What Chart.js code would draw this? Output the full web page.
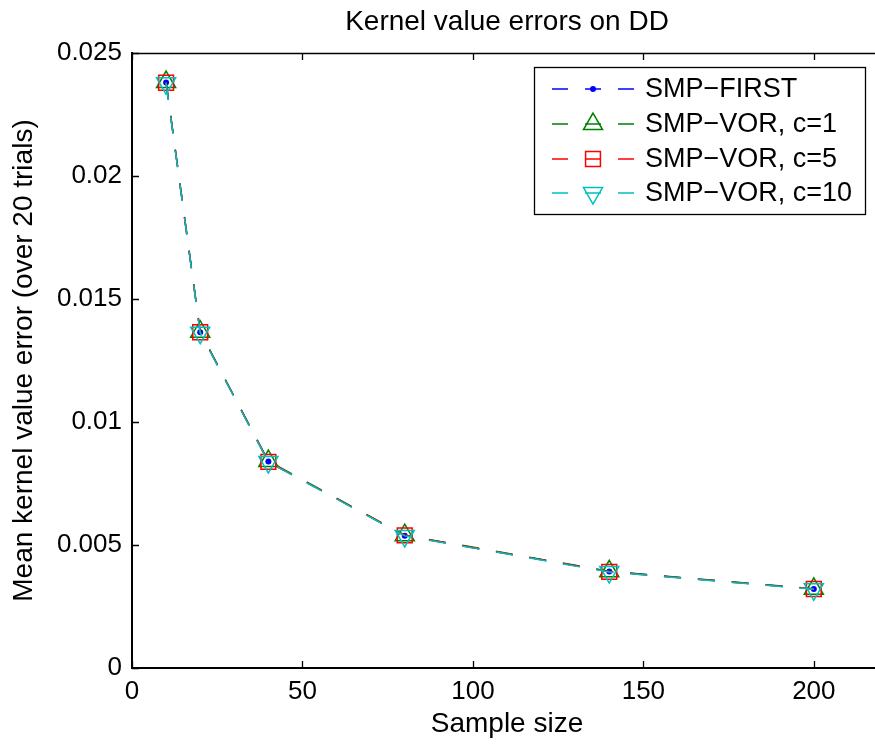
<!DOCTYPE html>
<html>
<head>
<meta charset="utf-8">
<title>Kernel value errors on DD</title>
<script src="https://cdn.jsdelivr.net/npm/chart.js@4.4.1/dist/chart.umd.min.js"></script>
<style>
  html, body { margin: 0; padding: 0; background: #fff; overflow: hidden; }
  #wrap { width: 875px; height: 744px; overflow: hidden; }
  #chart { display: block; }
</style>
</head>
<body>
<div id="wrap"><canvas id="chart" width="884" height="744"></canvas></div>
<script>
// Sample sizes (x axis)
const sampleSizes = [10, 20, 40, 80, 140, 200];

// Mean kernel value error over 20 trials
const smpFirst = [0.02380, 0.01365, 0.00839, 0.00538, 0.00392, 0.00321];
const smpVor1  = [0.02382, 0.01367, 0.00841, 0.00540, 0.00393, 0.00322];
const smpVor5  = [0.02379, 0.01365, 0.00838, 0.00539, 0.00391, 0.00321];
const smpVor10 = [0.02377, 0.01363, 0.00837, 0.00537, 0.00390, 0.00320];

const seriesNames = ['SMP\u2212FIRST', 'SMP\u2212VOR, c=1', 'SMP\u2212VOR, c=5', 'SMP\u2212VOR, c=10'];

// Tick labels
const xTickValues = [0, 50, 100, 150, 200];
const xTickLabels = ['0', '50', '100', '150', '200'];
const yTickValues = [0, 0.005, 0.01, 0.015, 0.02, 0.025];
const yTickLabels = ['0', '0.005', '0.01', '0.015', '0.02', '0.025'];

const FONT = '"Liberation Sans", Arial, Helvetica, sans-serif';
const DASH = [17, 17];

function toPoints(values) {
  return sampleSizes.map((x, i) => ({ x: x, y: values[i] }));
}

function series(label, values, color, style, radius, rotation, order) {
  const filled = style === 'circle';
  return {
    label: label,
    data: toPoints(values),
    borderColor: color,
    borderWidth: 1.5,
    borderDash: DASH,
    tension: 0,
    fill: false,
    pointStyle: style,
    pointRadius: radius,
    pointRotation: rotation,
    pointBorderColor: color,
    pointBackgroundColor: filled ? color : 'rgba(0,0,0,0)',
    pointBorderWidth: filled ? 0 : 1.5,
    pointHoverRadius: radius,
    order: order
  };
}

const datasets = [
  series(seriesNames[0], smpFirst, '#0000ff', 'circle', 3, 0, 3),
  series(seriesNames[1], smpVor1, '#008000', 'triangle', 11, 0, 2),
  series(seriesNames[2], smpVor5, '#ff0000', 'rect', 10.5, 0, 1),
  series(seriesNames[3], smpVor10, '#00bfbf', 'triangle', 11, 180, 0)
];

// Title, top box edge, inward ticks and the MATLAB-style legend
const decorations = {
  id: 'decorations',
  afterDraw(chart) {
    const ctx = chart.ctx;
    const area = chart.chartArea;
    const xs = chart.scales.x;
    const ys = chart.scales.y;

    ctx.save();
    // title
    ctx.fillStyle = '#000';
    ctx.font = '28px ' + FONT;
    ctx.textAlign = 'center';
    ctx.textBaseline = 'middle';
    ctx.fillText('Kernel value errors on DD', 507, 22);

    // top edge of the box
    ctx.strokeStyle = '#000';
    ctx.lineWidth = 1.3;
    ctx.beginPath();
    ctx.moveTo(area.left, area.top + 0.5);
    ctx.lineTo(area.right, area.top + 0.5);
    ctx.stroke();

    // inward ticks
    const len = 7;
    ctx.lineWidth = 1.3;
    ctx.beginPath();
    xTickValues.forEach(v => {
      const px = Math.round(xs.getPixelForValue(v)) + 0.5;
      ctx.moveTo(px, area.bottom);
      ctx.lineTo(px, area.bottom - len);
      ctx.moveTo(px, area.top);
      ctx.lineTo(px, area.top + len);
    });
    yTickValues.forEach(v => {
      const py = Math.round(ys.getPixelForValue(v)) + 0.5;
      ctx.moveTo(area.left, py);
      ctx.lineTo(area.left + len, py);
    });
    ctx.stroke();

    // legend
    const box = { x: 534.5, y: 67.5, w: 331, h: 147 };
    ctx.fillStyle = '#fff';
    ctx.fillRect(box.x, box.y, box.w, box.h);
    ctx.lineWidth = 1.3;
    ctx.strokeStyle = '#000';
    ctx.strokeRect(box.x, box.y, box.w, box.h);

    const rows = [89, 124, 159, 193];
    chart.data.datasets.forEach((ds, i) => {
      const y = rows[i];
      ctx.strokeStyle = ds.borderColor;
      ctx.lineWidth = 1.5;
      ctx.setLineDash([16, 17]);
      ctx.beginPath();
      ctx.moveTo(552, y);
      ctx.lineTo(635, y);
      ctx.stroke();
      ctx.setLineDash([]);

      ctx.strokeStyle = ds.pointBorderColor;
      ctx.fillStyle = ds.pointBackgroundColor;
      ctx.lineWidth = ds.pointBorderWidth;
      Chart.helpers.drawPoint(ctx, {
        pointStyle: ds.pointStyle,
        radius: ds.pointRadius,
        rotation: ds.pointRotation,
        borderWidth: ds.pointBorderWidth
      }, 593, y);

      ctx.fillStyle = '#000';
      ctx.font = '27px ' + FONT;
      ctx.textAlign = 'left';
      ctx.textBaseline = 'middle';
      ctx.fillText(ds.label, 645, y + 1);
    });
    ctx.restore();
  }
};

Chart.defaults.color = '#000';
Chart.defaults.font.family = FONT;

const ctx = document.getElementById('chart').getContext('2d');
const chart = new Chart(ctx, {
  type: 'line',
  data: { datasets: datasets },
  plugins: [decorations],
  options: {
    responsive: false,
    animation: false,
    layout: {
      autoPadding: false,
      padding: { top: 53, right: 2, left: 0, bottom: 0 }
    },
    plugins: {
      legend: { display: false },
      title: { display: false },
      tooltip: { enabled: false }
    },
    scales: {
      x: {
        type: 'linear',
        min: 0,
        max: 220,
        afterBuildTicks: s => { s.ticks = xTickValues.map(v => ({ value: v })); },
        afterFit: s => {
          s.height = 76;
          s.paddingLeft = 0;
          s.paddingRight = 0;
        },
        grid: { display: false, drawTicks: false },
        border: { display: true, color: '#000', width: 2 },
        ticks: {
          font: { size: 26 },
          padding: 8,
          maxRotation: 0,
          callback: (v, i) => xTickLabels[i]
        },
        title: {
          display: true,
          text: 'Sample size',
          font: { size: 28 },
          padding: { top: 0, bottom: 3 }
        }
      },
      y: {
        min: 0,
        max: 0.025,
        afterBuildTicks: s => { s.ticks = yTickValues.map(v => ({ value: v })); },
        afterFit: s => {
          s.width = 132;
          s.paddingTop = 0;
          s.paddingBottom = 0;
        },
        grid: { display: false, drawTicks: false },
        border: { display: true, color: '#000', width: 2 },
        ticks: {
          font: { size: 26 },
          padding: 10,
          callback: (v, i) => yTickLabels[i]
        },
        title: {
          display: true,
          text: 'Mean kernel value error (over 20 trials)',
          font: { size: 28 },
          padding: { top: 7, bottom: 0 }
        }
      }
    }
  }
});
</script>
</body>
</html>
